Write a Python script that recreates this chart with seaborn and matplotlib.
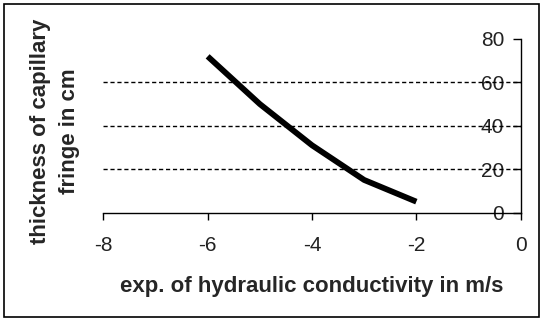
import matplotlib
matplotlib.use("Agg")
import matplotlib.pyplot as plt
from matplotlib.patches import Rectangle
import seaborn as sns
import pandas as pd

# exponent of hydraulic conductivity (m/s) and capillary fringe thickness (cm)
exponent = [-6, -5, -4, -3, -2]
fringe_cm = [72, 50, 31, 15, 5]

x_ticks = [-8, -6, -4, -2, 0]
y_ticks = [0, 20, 40, 60, 80]
grid_levels = [20, 40, 60]

sns.set_theme(style="white")
plt.rcParams["font.family"] = ["Liberation Sans", "DejaVu Sans"]

df = pd.DataFrame({"exponent": exponent, "fringe": fringe_cm})

fig = plt.figure(figsize=(5.41, 3.22), dpi=100)
fig.patch.set_facecolor("white")
ax = fig.add_axes([103.3 / 541, 1 - 212.5 / 322, (520.7 - 103.3) / 541, (212.5 - 39) / 322])
ax.set_facecolor("white")

for lvl in grid_levels:
    ax.axhline(lvl, color="black", lw=1.0, ls=(0, (3, 2)), zorder=1)

sns.lineplot(data=df, x="exponent", y="fringe", ax=ax, color="black",
             linewidth=4.2, solid_capstyle="butt", solid_joinstyle="round",
             zorder=3)

ax.set_xlim(-8, 0)
ax.set_ylim(0, 80)
ax.set_xticks(x_ticks)
ax.set_yticks(y_ticks)
ax.set_xticklabels([str(v) for v in x_ticks])
ax.set_yticklabels([str(v) for v in y_ticks])

# y axis drawn at x = 0 (right edge), labels sit to its left
ax.spines["left"].set_position(("data", 0))
ax.spines["right"].set_visible(False)
ax.spines["top"].set_visible(False)
for s in ("left", "bottom"):
    ax.spines[s].set_color("black")
    ax.spines[s].set_linewidth(1.0)

ax.tick_params(axis="x", direction="out", length=5, width=1, color="black",
               labelsize=15, pad=12, labelcolor="#222222", bottom=True)
ax.tick_params(axis="y", direction="out", length=6, width=1, color="black",
               labelsize=15, pad=6, labelcolor="#222222", left=True)

ax.set_xlabel("exp. of hydraulic conductivity in m/s", fontsize=16,
              fontweight="bold", labelpad=15)
ax.set_ylabel("")
fig.text(55 / 541, 1 - 131 / 322, "thickness of capillary\nfringe in cm",
         rotation=90, ha="center", va="center", multialignment="center",
         fontsize=16, fontweight="bold", linespacing=1.55)

# outer frame around the chart
fig.add_artist(Rectangle((4 / 541, 1 - 317 / 322), 535 / 541, 313 / 322,
                         transform=fig.transFigure, fill=False,
                         edgecolor="black", linewidth=1.2))

fig.savefig("out.png", dpi=100, facecolor="white")
